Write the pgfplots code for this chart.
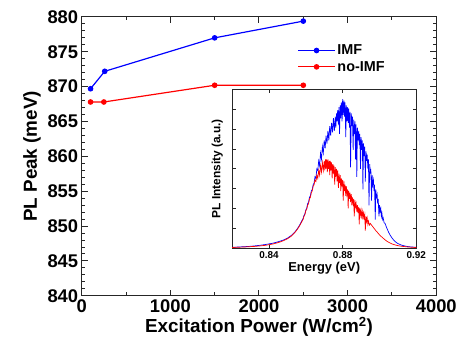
\documentclass[border=0pt]{standalone}
\usepackage{fontspec}
\setmainfont{Liberation Sans}
\usepackage{pgfplots}
\pgfplotsset{compat=1.18}
\usetikzlibrary{calc}
\begin{document}
\begin{tikzpicture}
\begin{axis}[name=main,
  scale only axis, width=356bp, height=280bp,
  xmin=0, xmax=4000, ymin=840, ymax=880,
  xtick={0,1000,...,4000}, minor x tick num=1,
  ytick={840,845,...,880}, minor y tick num=4,
  tick align=inside,
  major tick length=6bp, minor tick length=3.5bp,
  axis line style={line width=1.1pt, black!85},
  every tick/.style={line width=1pt, black!85},
  ticklabel style={font=\fontsize{18.5}{19}\selectfont\bfseries},
  /pgf/number format/assume math mode=true,
  /pgf/number format/1000 sep={},
  xlabel={Excitation Power (W/cm\textsuperscript{2})},
  ylabel={PL Peak (meV)},
  label style={font=\fontsize{19}{20}\selectfont\bfseries},
  xlabel style={yshift=2bp},
  legend style={draw=none, fill=none, at={(0.6,0.915)}, anchor=north west,
    font=\fontsize{14.5}{15}\selectfont\bfseries, row sep=1bp},
  legend cell align=left,
  legend image code/.code={\draw[mark repeat=2,mark phase=2] plot coordinates {(0cm,0cm) (0.65cm,0cm) (1.3cm,0cm)};},
]
\addplot[blue, line width=1.2pt, mark=*, mark size=2.2bp] coordinates {
  (100,869.7) (260,872.2) (1500,877.0) (2500,879.4)};
\addlegendentry{IMF}
\addplot[red, line width=1.2pt, mark=*, mark size=2.2bp] coordinates {
  (100,867.8) (250,867.8) (1500,870.2) (2500,870.2)};
\addlegendentry{no-IMF}
\end{axis}
\begin{axis}[at={($(main.south west)+(151bp,48bp)$)}, anchor=south west,
  scale only axis, width=185bp, height=159bp,
  xmin=0.82, xmax=0.92, ymin=0, ymax=1,
  xtick={0.84,0.88,0.92},
  ytick={0.125,0.25,0.375,0.5,0.625,0.75,0.875}, yticklabels={},
  tick align=inside, major tick length=3.5bp,
  axis line style={line width=0.8pt, black!85},
  every tick/.style={line width=0.7pt, black!85},
  axis background/.style={fill=white},
  xticklabel style={font=\fontsize{10}{10}\selectfont\bfseries},
  /pgf/number format/assume math mode=true,
  /pgf/number format/.cd, fixed, fixed zerofill, precision=2, /pgfplots/.cd,
  xlabel={Energy (eV)}, ylabel={PL Intensity (a.u.)},
  xlabel style={font=\fontsize{13}{13}\selectfont\bfseries, yshift=3bp},
  ylabel style={font=\fontsize{12}{12}\selectfont\bfseries, yshift=-1bp},
]
\addplot[blue, line width=0.7pt] coordinates {
(0.820,0.004) (0.823,0.006) (0.826,0.008) (0.829,0.010) (0.832,0.013) (0.835,0.017) (0.838,0.022) (0.840,0.026) (0.842,0.030) (0.844,0.036) (0.846,0.043) (0.848,0.051) (0.850,0.062) (0.852,0.078) (0.853,0.088) (0.854,0.100) (0.855,0.115) (0.856,0.132) (0.857,0.152) (0.858,0.175) (0.8585,0.185) (0.859,0.205) (0.8595,0.215) (0.860,0.240) (0.8605,0.25) (0.861,0.28) (0.8615,0.29) (0.862,0.32) (0.8625,0.33) (0.863,0.36) (0.8635,0.37) (0.864,0.40) (0.8645,0.41) (0.865,0.45) (0.8655,0.44) (0.866,0.50) (0.8665,0.49) (0.867,0.55) (0.8675,0.52) (0.868,0.60) (0.8685,0.56) (0.869,0.64) (0.8695,0.60) (0.870,0.68) (0.8705,0.63) (0.871,0.71) (0.8715,0.66) (0.872,0.74) (0.8725,0.68) (0.873,0.77) (0.8735,0.71) (0.874,0.79) (0.8745,0.73) (0.875,0.82) (0.8755,0.74)
(0.876,0.83) (0.8763,0.76) (0.8767,0.85) (0.877,0.80) (0.8773,0.87) (0.8777,0.78) (0.878,0.89) (0.8783,0.72) (0.8787,0.90) (0.879,0.82) (0.8793,0.92) (0.8797,0.80) (0.880,0.94) (0.8803,0.84) (0.8807,0.93) (0.881,0.83) (0.8813,0.92) (0.8817,0.70) (0.882,0.90) (0.8823,0.80) (0.8827,0.89) (0.883,0.79) (0.8833,0.88) (0.8837,0.76) (0.884,0.86) (0.8843,0.51) (0.8847,0.85) (0.885,0.77) (0.8853,0.83) (0.8857,0.62) (0.886,0.81) (0.8863,0.72) (0.8867,0.80) (0.887,0.56) (0.8873,0.78) (0.8877,0.45) (0.888,0.76) (0.8883,0.68) (0.8887,0.74) (0.889,0.65) (0.8893,0.72) (0.8897,0.50) (0.890,0.70) (0.8903,0.62) (0.8907,0.68) (0.891,0.37) (0.8913,0.66) (0.8917,0.58) (0.892,0.64) (0.8923,0.42) (0.8927,0.61) (0.893,0.55) (0.8933,0.59) (0.8937,0.50) (0.894,0.56) (0.8943,0.27) (0.8947,0.53) (0.895,0.47) (0.8953,0.50) (0.8957,0.30) (0.896,0.46) (0.8963,0.40) (0.8967,0.43) (0.897,0.36) (0.8973,0.40) (0.8977,0.18) (0.898,0.37) (0.8983,0.32) (0.8987,0.34) (0.899,0.28) (0.8993,0.31) (0.8997,0.20) (0.900,0.27) (0.9003,0.23) (0.9007,0.25) (0.901,0.20) (0.9013,0.22) (0.9017,0.18) (0.902,0.19) (0.9025,0.16)
(0.903,0.155) (0.904,0.125) (0.905,0.098) (0.906,0.077) (0.907,0.060) (0.908,0.046) (0.909,0.036) (0.910,0.028) (0.912,0.018) (0.914,0.012) (0.916,0.008) (0.918,0.006) (0.920,0.004)
};
\addplot[red, line width=0.7pt] coordinates {
(0.820,0.003) (0.823,0.005) (0.826,0.006) (0.829,0.008) (0.832,0.010) (0.835,0.013) (0.838,0.017) (0.840,0.021) (0.842,0.025) (0.844,0.031) (0.846,0.038) (0.848,0.047) (0.850,0.058) (0.852,0.074) (0.853,0.085) (0.854,0.097) (0.855,0.112) (0.856,0.128) (0.857,0.148) (0.858,0.170) (0.8585,0.180) (0.859,0.200) (0.8595,0.21) (0.860,0.235) (0.8605,0.245) (0.861,0.27) (0.8615,0.28) (0.862,0.31) (0.8625,0.32) (0.863,0.35) (0.8635,0.36) (0.864,0.39) (0.8645,0.40) (0.865,0.43) (0.8655,0.42) (0.866,0.46) (0.8665,0.44) (0.867,0.49) (0.8675,0.46) (0.868,0.52) (0.8685,0.48) (0.869,0.54) (0.8695,0.49)
(0.870,0.55) (0.8703,0.49) (0.8707,0.56) (0.871,0.50) (0.8713,0.56) (0.8717,0.48) (0.872,0.56) (0.8723,0.50) (0.8727,0.55) (0.873,0.46) (0.8733,0.55) (0.8737,0.49) (0.874,0.54) (0.8743,0.44) (0.8747,0.53) (0.875,0.47) (0.8753,0.52) (0.8757,0.40) (0.876,0.51) (0.8763,0.45) (0.8767,0.50) (0.877,0.42) (0.8773,0.49) (0.8777,0.38) (0.878,0.47) (0.8783,0.41) (0.8787,0.46) (0.879,0.36) (0.8793,0.44) (0.8797,0.39) (0.880,0.43) (0.8803,0.30) (0.8807,0.42) (0.881,0.36) (0.8813,0.40) (0.8817,0.33) (0.882,0.39) (0.8823,0.34) (0.8827,0.37) (0.883,0.25) (0.8833,0.36) (0.8837,0.31) (0.884,0.35) (0.8843,0.29) (0.8847,0.34) (0.885,0.27) (0.8853,0.32) (0.8857,0.28) (0.886,0.31) (0.8863,0.20) (0.8867,0.30) (0.887,0.26) (0.8873,0.28) (0.8877,0.23) (0.888,0.27) (0.8883,0.22) (0.8887,0.26) (0.889,0.15) (0.8893,0.25) (0.8897,0.21) (0.890,0.24) (0.8903,0.20) (0.8907,0.23) (0.891,0.18) (0.8913,0.22) (0.8917,0.19) (0.892,0.21) (0.8923,0.11) (0.8927,0.20) (0.893,0.17) (0.8933,0.19) (0.8937,0.15) (0.894,0.17) (0.8945,0.145)
(0.895,0.155) (0.896,0.14) (0.897,0.125) (0.898,0.11) (0.899,0.097) (0.900,0.083) (0.901,0.072) (0.902,0.062) (0.903,0.052) (0.904,0.043) (0.905,0.036) (0.906,0.030) (0.907,0.025) (0.908,0.021) (0.910,0.015) (0.912,0.011) (0.915,0.007) (0.920,0.003)
};
\end{axis}
\path[use as bounding box] ($(main.south west)+(-82bp,-54bp)$) rectangle ($(main.south west)+(378bp,297bp)$);
\end{tikzpicture}
\end{document}
